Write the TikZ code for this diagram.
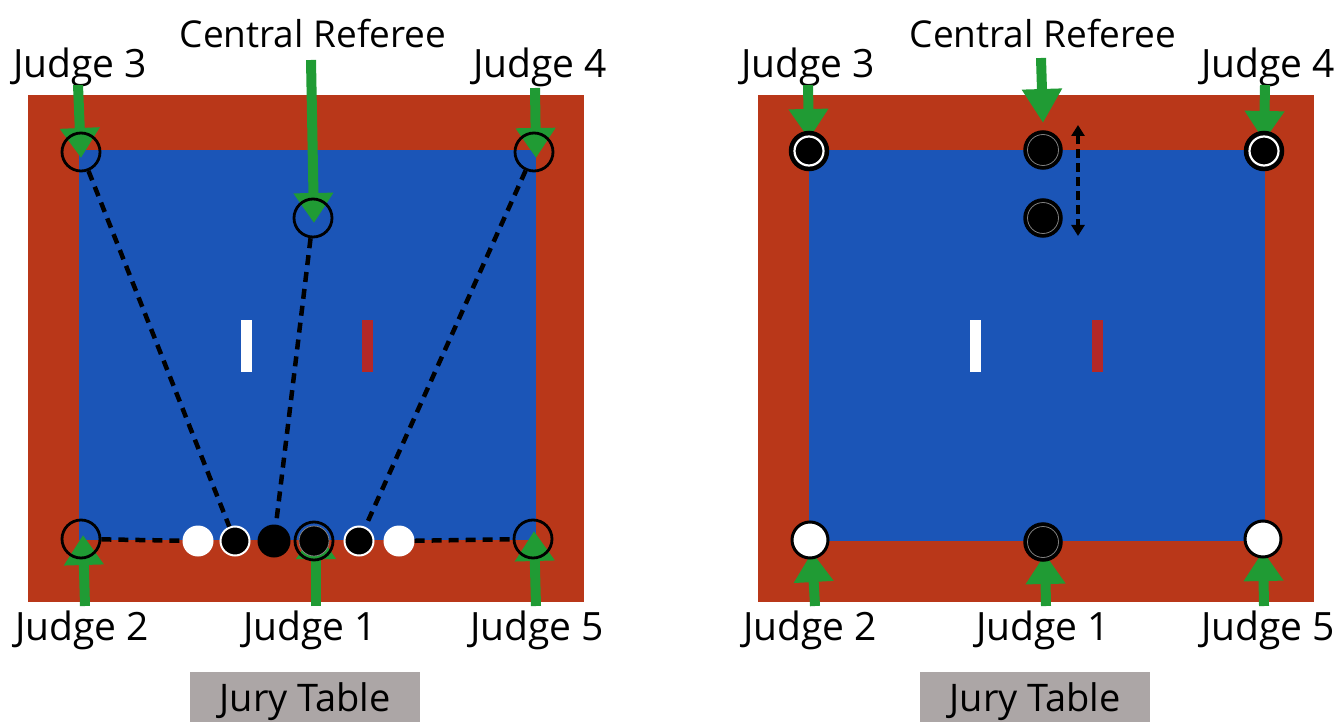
\documentclass[tikz,border=0pt]{standalone}
\usepackage{fontspec}
\setmainfont{Open Sans}
\usetikzlibrary{arrows.meta,calc}
\definecolor{matred}{RGB}{185,55,25}
\definecolor{stripered}{RGB}{180,40,40}
\definecolor{matblue}{RGB}{27,85,183}
\definecolor{jgreen}{RGB}{32,155,52}
\definecolor{jurygray}{RGB}{172,166,166}
\begin{document}
\begin{tikzpicture}[x=1pt,y=-1pt,
  lbl/.style={font=\fontsize{39}{44}\selectfont, anchor=base, inner sep=0pt},
  clbl/.style={font=\fontsize{37}{42}\selectfont, anchor=base, inner sep=0pt},
  jury/.style={fill=jurygray, minimum width=230pt, minimum height=50pt, inner sep=0pt, anchor=north west, font=\fontsize{38}{42}\selectfont, text depth=0pt},
  garrow/.style={draw=jgreen, line width=10pt, -{Triangle[width=38pt,length=30pt]}},
  gbig/.style={draw=jgreen, line width=10pt, -{Triangle[width=38pt,length=34pt]}},
  dl/.style={draw=black, line width=4.5pt, dash pattern=on 10pt off 7pt},
  ring/.style={circle, draw=black, line width=2.8pt, minimum size=38pt, inner sep=0pt},
  ringdot/.style={ring, path picture={\fill[black] (path picture bounding box.center) circle (15pt);
      \draw[gray, line width=0.8pt] (path picture bounding box.center) circle (15pt);}},
  wdot/.style={circle, fill=white, minimum size=31pt, inner sep=0pt},
  bwdot/.style={circle, fill=black, draw=white, line width=2pt, minimum size=29pt, inner sep=0pt},
  bdot/.style={circle, fill=black, minimum size=33pt, inner sep=0pt},
  rjud/.style={circle, fill=black, draw=black, line width=2.5pt, minimum size=38pt, inner sep=0pt,
      path picture={\draw[white, line width=2.2pt] (path picture bounding box.center) circle (14.5pt);}},
  rref/.style={circle, fill=black, draw=black, line width=2.5pt, minimum size=37pt, inner sep=0pt,
      path picture={\draw[gray, line width=0.8pt] (path picture bounding box.center) circle (15.5pt);}},
  rwhite/.style={circle, fill=white, draw=black, line width=3pt, minimum size=36pt, inner sep=0pt},
  darrow/.style={draw=black, line width=3.5pt, dash pattern=on 9pt off 5pt,
      {Triangle[width=13pt,length=11pt]}-{Triangle[width=13pt,length=11pt]}}
]
\useasboundingbox (0,0) rectangle (1341,722);

% ---------------- left mat ----------------
\fill[matred] (28,95) rectangle (584,602);
\fill[matblue] (79,150) rectangle (536,540);
\fill[white] (241,320) rectangle (252,372);
\fill[stripered] (362,320) rectangle (373,372);

\node[lbl] (tL3) at (80,78) {Judge 3};
\node[clbl] (tLC) at (313,48) {Central Referee};
\node[lbl] (tL4) at (540,78) {Judge 4};
\node[lbl] (tL2) at (82,640) {Judge 2};
\node[lbl] (tL1) at (310,640) {Judge 1};
\node[lbl] (tL5) at (537,640) {Judge 5};
\node[jury] (jL) at (190,672) {Jury Table};

\coordinate (L3) at (81,152);
\coordinate (LC) at (313,218);
\coordinate (L4) at (534,152);
\coordinate (L2) at (81,539);
\coordinate (L1) at (314,541);
\coordinate (L5) at (533,539);

\coordinate (aL3) at (78,85);
\coordinate (aLC) at (311,60);
\coordinate (aL4) at (535,88);
\coordinate (aL2) at (85,606);
\coordinate (aL1) at (316,606);
\coordinate (aL5) at (536,606);
\draw[garrow] (aL3) -- ($(L3)+(0,6)$);
\draw[garrow] (aLC) -- ($(LC)+(1,5)$);
\draw[garrow] (aL4) -- ($(L4)+(2,6)$);
\draw[garrow] (aL2) -- ($(L2)+(2,-4)$);
\draw[garrow] (aL1) -- ($(L1)+(2,-12)$);
\draw[garrow] (aL5) -- ($(L5)+(1,-8)$);

\node[ring] (nL3) at (L3) {};
\node[ring] (nLC) at (LC) {};
\node[ring] (nL4) at (L4) {};
\node[ring] (nL2) at (L2) {};
\node[ring] (nL5) at (L5) {};
\node[ringdot] (nL1) at (L1) {};
\node[wdot] (w1) at (198,541) {};
\node[bwdot] (b1) at (235,541) {};
\node[bdot] (b2) at (274,541) {};
\node[bwdot] (b3) at (359,541) {};
\node[wdot] (w2) at (399,541) {};

\draw[dl] (nL3) -- (b1);
\draw[dl] (nLC) -- (b2);
\draw[dl] (nL4) -- (b3);
\draw[dl] (nL2) -- (w1);
\draw[dl] (w2) -- (nL5);

% ---------------- right mat ----------------
\fill[matred] (758,95) rectangle (1314,602);
\fill[matblue] (809,150) rectangle (1265,541);
\fill[white] (970,320) rectangle (981,372);
\fill[stripered] (1092,320) rectangle (1103,372);

\node[lbl] (tR3) at (808,78) {Judge 3};
\node[clbl] (tRC) at (1043,48) {Central Referee};
\node[lbl] (tR4) at (1268,78) {Judge 4};
\node[lbl] (tR2) at (810,640) {Judge 2};
\node[lbl] (tR1) at (1043,640) {Judge 1};
\node[lbl] (tR5) at (1268,640) {Judge 5};
\node[jury] (jR) at (920,672) {Jury Table};

\coordinate (R3) at (809,151);
\coordinate (RC) at (1043,150);
\coordinate (RC2) at (1043,218);
\coordinate (R4) at (1264,151);
\coordinate (R2) at (810,540);
\coordinate (R1) at (1043,542);
\coordinate (R5) at (1263,539);

\coordinate (aR3) at (808,85);
\coordinate (aRC) at (1041,58);
\coordinate (aR4) at (1265,85);
\coordinate (aR2) at (815,606);
\coordinate (aR1) at (1046,606);
\coordinate (aR5) at (1264,606);
\draw[garrow] (aR3) -- ($(R3)+(0,-12)$);
\draw[gbig] (aRC) -- ($(RC)+(0,-27)$);
\draw[garrow] (aR4) -- ($(R4)+(0,-10)$);
\draw[garrow] (aR2) -- ($(R2)+(2,12)$);
\draw[garrow] (aR1) -- ($(R1)+(2,12)$);
\draw[garrow] (aR5) -- ($(R5)+(0,12)$);

\node[rjud] (nR3) at (R3) {};
\node[rjud] (nR4) at (R4) {};
\node[rref] (nRC) at (RC) {};
\node[rref] (nRC2) at (RC2) {};
\node[rref] (nR1) at (R1) {};
\node[rwhite] (nR2) at (R2) {};
\node[rwhite] (nR5) at (R5) {};

\coordinate (dtop) at (1078,125);
\coordinate (dbot) at (1078,236);
\draw[darrow] (dtop) -- (dbot);
\end{tikzpicture}
\end{document}
